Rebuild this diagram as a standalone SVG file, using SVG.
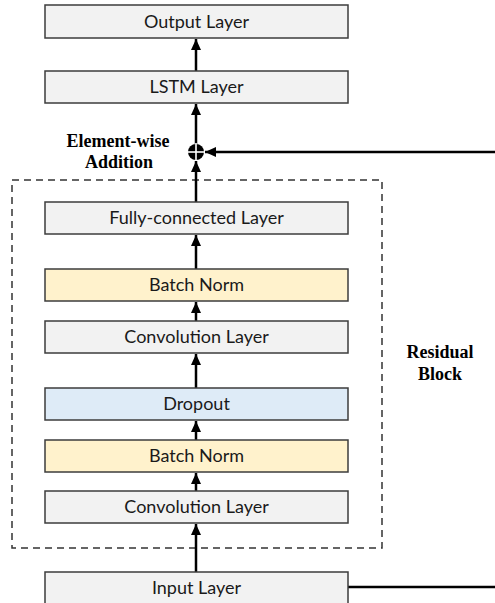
<svg xmlns="http://www.w3.org/2000/svg" width="495" height="603" viewBox="0 0 495 603">
  <style>
    .box { stroke: #3c3c3c; stroke-width: 1.5; }
    .gray { fill: #f2f2f2; }
    .yellow { fill: #fff2cc; }
    .blue { fill: #deebf7; }
    .lbl { font-family: Lato, "Open Sans", sans-serif; font-size: 18px; fill: #1a1a1a; text-anchor: middle; }
    .note { font-family: "Liberation Serif", serif; font-weight: bold; font-size: 18px; fill: #000; text-anchor: middle; }
    .wire { stroke: #000; stroke-width: 2.5; fill: none; }
  </style>
  <defs>
    <marker id="ah" markerUnits="userSpaceOnUse" markerWidth="12" markerHeight="12" viewBox="0 0 12 12" refX="11" refY="6" orient="auto">
      <path d="M0,1 L11,6 L0,11 Z" fill="#000"/>
    </marker>
  </defs>

  <rect x="12" y="180" width="370" height="368" fill="none" stroke="#333" stroke-width="1.5" stroke-dasharray="7,5"/>

  <g id="connectors">
    <line class="wire" x1="196" y1="71" x2="196" y2="39" marker-end="url(#ah)"/>
    <line class="wire" x1="196" y1="144" x2="196" y2="104" marker-end="url(#ah)"/>
    <line class="wire" x1="196" y1="202" x2="196" y2="161" marker-end="url(#ah)"/>
    <line class="wire" x1="196" y1="269" x2="196" y2="235" marker-end="url(#ah)"/>
    <line class="wire" x1="196" y1="321" x2="196" y2="302" marker-end="url(#ah)"/>
    <line class="wire" x1="196" y1="388" x2="196" y2="354" marker-end="url(#ah)"/>
    <line class="wire" x1="196" y1="440" x2="196" y2="421" marker-end="url(#ah)"/>
    <line class="wire" x1="196" y1="491" x2="196" y2="473" marker-end="url(#ah)"/>
    <line class="wire" x1="196" y1="572" x2="196" y2="524" marker-end="url(#ah)"/>
    <line class="wire" x1="348" y1="587" x2="495" y2="587"/>
    <line class="wire" x1="495" y1="152" x2="205" y2="152" marker-end="url(#ah)"/>
  </g>

  <g id="add">
    <circle cx="196" cy="152" r="8" fill="#000"/>
    <line x1="187" y1="152" x2="205" y2="152" stroke="#fff" stroke-width="1.6"/>
    <line x1="196" y1="143" x2="196" y2="161" stroke="#fff" stroke-width="1.6"/>
    <text class="note" x="118" y="147">Element-wise</text>
    <text class="note" x="119" y="168">Addition</text>
  </g>

  <g id="output"><rect class="box gray" x="45" y="5" width="303" height="33"/><text class="lbl" x="196.5" y="28">Output Layer</text></g>
  <g id="lstm"><rect class="box gray" x="45" y="71" width="303" height="32"/><text class="lbl" x="196.5" y="93">LSTM Layer</text></g>
  <g id="fc"><rect class="box gray" x="45" y="202" width="303" height="32"/><text class="lbl" x="196.5" y="224">Fully-connected Layer</text></g>
  <g id="bn1"><rect class="box yellow" x="45" y="269" width="303" height="32"/><text class="lbl" x="196.5" y="291">Batch Norm</text></g>
  <g id="conv1"><rect class="box gray" x="45" y="321" width="303" height="32"/><text class="lbl" x="196.5" y="343">Convolution Layer</text></g>
  <g id="dropout"><rect class="box blue" x="45" y="388" width="303" height="32"/><text class="lbl" x="196.5" y="410">Dropout</text></g>
  <g id="bn2"><rect class="box yellow" x="45" y="440" width="303" height="32"/><text class="lbl" x="196.5" y="462">Batch Norm</text></g>
  <g id="conv2"><rect class="box gray" x="45" y="491" width="303" height="32"/><text class="lbl" x="196.5" y="513">Convolution Layer</text></g>
  <g id="input"><rect class="box gray" x="45" y="572" width="303" height="34"/><text class="lbl" x="196.5" y="594">Input Layer</text></g>

  <g id="residual">
    <text class="note" x="440" y="358">Residual</text>
    <text class="note" x="440" y="380">Block</text>
  </g>
</svg>
